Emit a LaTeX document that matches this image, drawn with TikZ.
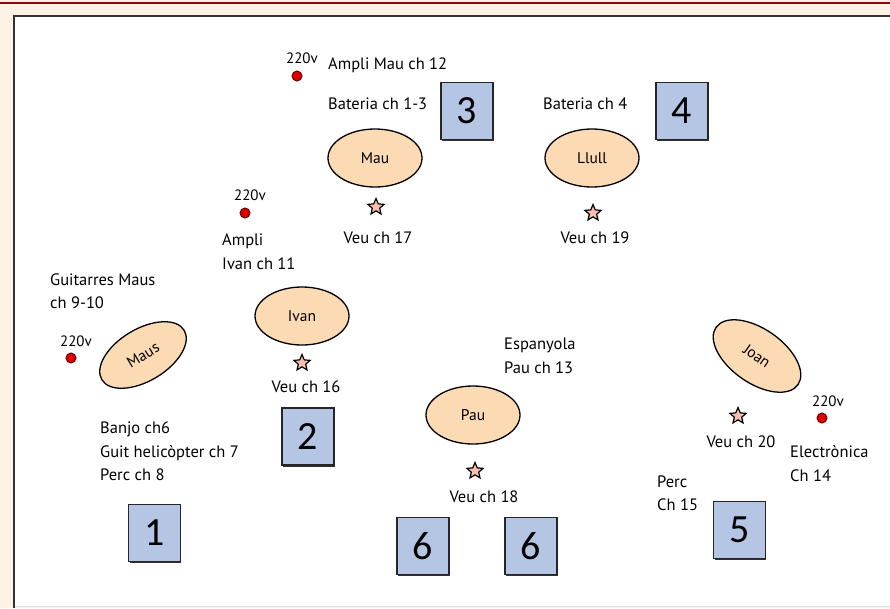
\documentclass[tikz,border=0pt]{standalone}
\usepackage{fontspec}
\setmainfont{PT Sans}
\newfontfamily\numfont{Carlito}
\usetikzlibrary{shapes.geometric}
\definecolor{bgpeach}{HTML}{FEF2E6}
\definecolor{darkred}{HTML}{8B0A0A}
\definecolor{framegray}{HTML}{333333}
\definecolor{boxblue}{HTML}{B4C6E3}
\definecolor{peach}{HTML}{FCDBB4}
\definecolor{starpink}{HTML}{F6BFAF}
\definecolor{plugred}{HTML}{E00000}
\begin{document}
\begin{tikzpicture}[x=1pt,y=-1pt,
  person/.style={ellipse, draw=black, line width=1.3pt, fill=peach, minimum width=94pt, minimum height=58pt, inner sep=0pt, font=\fontsize{15.5}{17}\selectfont},
  numbox/.style={rectangle, draw=black!85, line width=1.4pt, fill=boxblue, minimum width=52pt, minimum height=57pt, inner sep=0pt, font=\numfont\fontsize{40}{42}\selectfont},
  plug/.style={circle, draw=black!60!red, fill=plugred, line width=1pt, minimum size=10pt, inner sep=0pt},
  mic/.style={star, star points=5, star point ratio=2.2, draw=black, fill=starpink, line width=1.2pt, minimum size=17pt, inner sep=0pt},
  lbl/.style={anchor=west, align=left, font=\fontsize{16.5}{23.5}\selectfont, inner sep=0pt},
  clbl/.style={anchor=center, font=\fontsize{16.5}{23.5}\selectfont, inner sep=0pt},
  volt/.style={font=\fontsize{15}{17}\selectfont, inner sep=0pt}]
\useasboundingbox (0,0) rectangle (890,608);
\fill[bgpeach] (0,0) rectangle (890,608);
\draw[darkred, line width=2pt] (0,3) -- (890,3);
\fill[white] (13.5,15.5) rectangle (892,606);
\draw[framegray, line width=2pt] (892,15.5) -- (13.5,15.5) -- (13.5,608);
\draw[black!12, line width=1pt] (14.5,606.5) -- (890,606.5);

% boxes with small shadow
\foreach \x/\y in {154.5/533, 308/436.5, 467/111, 682/111, 739.5/530, 423/546, 531/546}{
  \fill[black!80] (\x-25,\y-27) rectangle (\x+26.5,\y+30);
}
\node[numbox] (b1) at (154.5,533) {1};
\node[numbox] (b2) at (308,436.5) {2};
\node[numbox] (b3) at (467,111) {3};
\node[numbox] (b4) at (682,111) {4};
\node[numbox] (b5) at (739.5,530) {5};
\node[numbox] (b6a) at (423,546) {6};
\node[numbox] (b6b) at (531,546) {6};

% musicians
\node[person] (mau) at (375,158) {Mau};
\node[person] (llull) at (592,158) {Llull};
\node[person] (ivan) at (302,316) {Ivan};
\node[person] (pau) at (473,415) {Pau};
\node[person, minimum width=96pt, minimum height=52pt, rotate=31] (maus) at (143,355) {Maus};
\node[person, minimum width=100pt, minimum height=54pt, rotate=-35] (joan) at (757,356) {Joan};

% power
\node[plug] (p1) at (297,76) {};
\node[volt] (v1) at (302,58) {220v};
\node[plug] (p2) at (245,213) {};
\node[volt] (v2) at (250,195) {220v};
\node[plug] (p3) at (71,358) {};
\node[volt] (v3) at (76,341) {220v};
\node[plug] (p4) at (822,418) {};
\node[volt] (v4) at (828,401) {220v};

% mics
\node[mic] (m17) at (376,207) {};
\node[mic] (m19) at (593,213) {};
\node[mic] (m16) at (302,363) {};
\node[mic] (m18) at (475,471) {};
\node[mic] (m20) at (738,416) {};
\node[clbl] (t17) at (378,238) {Veu ch 17};
\node[clbl] (t19) at (595,238) {Veu ch 19};
\node[clbl] (t16) at (306,387) {Veu ch 16};
\node[clbl] (t18) at (484,497) {Veu ch 18};
\node[clbl] (t20) at (741,442) {Veu ch 20};

% labels
\node[lbl] (amau) at (328,65) {Ampli Mau ch 12};
\node[lbl] (bat1) at (328,104) {Bateria ch 1-3};
\node[lbl] (bat4) at (543,104) {Bateria ch 4};
\node[lbl] (aivan) at (222,251.5) {Ampli\\Ivan ch 11};
\node[lbl] (gmaus) at (50,291) {Guitarres Maus\\ch 9-10};
\node[lbl] (esp) at (504,356) {Espanyola\\Pau ch 13};
\node[lbl] (banjo) at (100,451.5) {Banjo ch6\\Guit helicòpter ch 7\\Perc ch 8};
\node[lbl] (elec) at (790,463.5) {Electrònica\\Ch 14};
\node[lbl] (perc) at (657,493) {Perc\\Ch 15};
\end{tikzpicture}
\end{document}
